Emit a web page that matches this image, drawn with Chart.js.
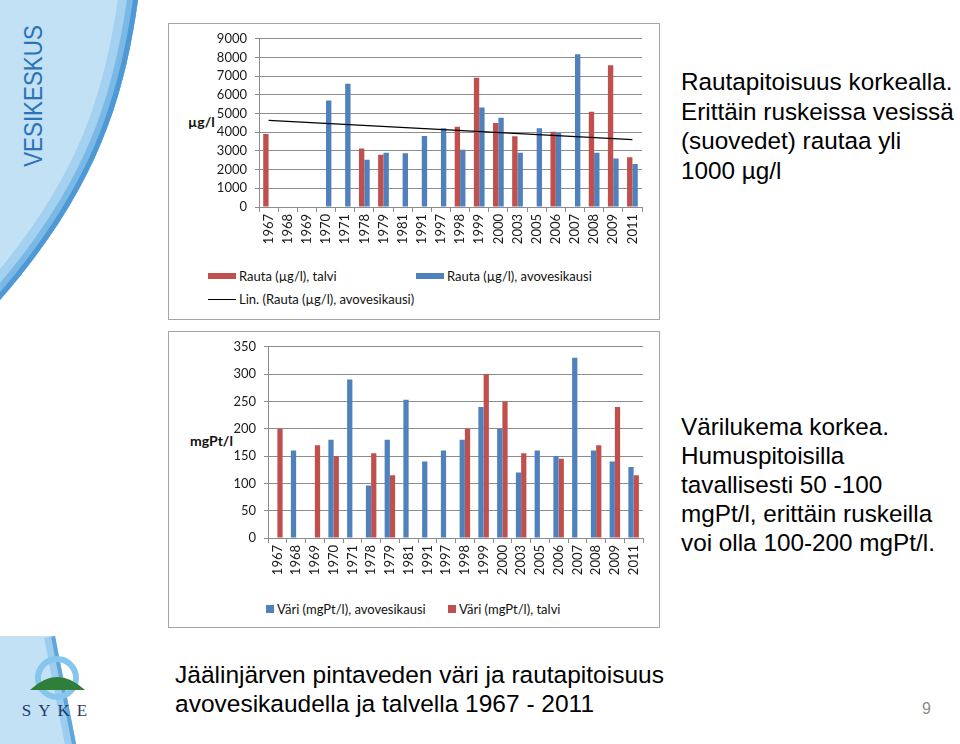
<!DOCTYPE html>
<html>
<head>
<meta charset="utf-8">
<script src="https://cdn.jsdelivr.net/npm/chart.js@4/dist/chart.umd.min.js"></script>
<style>
  body { margin: 0; width: 960px; height: 744px; position: relative; overflow: hidden; background: #fff; font-family: 'Liberation Sans', Arial, sans-serif; }
  .abs { position: absolute; }
  .box { position: absolute; border: 1px solid #a6a6a6; box-sizing: border-box; }
  .vk { position: absolute; left: 33px; top: 96px; transform: translate(-50%, -50%) rotate(-90deg) scaleX(0.86); color: #2b73b6; font-size: 26px; white-space: nowrap; }
  .side { position: absolute; left: 681px; font-size: 24.3px; color: #000; }
  .ylab { position: absolute; font-family: Lato, sans-serif; font-weight: bold; font-size: 14px; color: #111; }
  .leg { position: absolute; font-family: Lato, sans-serif; font-size: 13px; color: #111; white-space: nowrap; display: flex; align-items: center; }
  .leg i { display: inline-block; margin-right: 3px; }
  .title { position: absolute; left: 175px; top: 660px; font-size: 24.5px; line-height: 29px; color: #000; }
  .pnum { position: absolute; left: 922px; top: 700px; font-size: 16px; color: #8c8c8c; }
</style>
</head>
<body>

<svg class="abs" style="left:0;top:0" width="960" height="744">
  <defs>
    <clipPath id="topClip"><path d="M0,0 L138,0 C124,100 96,190 0,300 Z"/></clipPath>
    <clipPath id="botClip"><path d="M0,636 L55,636 L76,744 L0,744 Z"/></clipPath>
  </defs>
  <path d="M0,0 L138,0 C124,100 96,190 0,300 Z" fill="#c3e1f5"/>
  <g clip-path="url(#topClip)">
    <path d="M138,0 C124,100 96,190 0,300" fill="none" stroke="#a4d1f0" stroke-width="40"/>
    <path d="M138,0 C124,100 96,190 0,300" fill="none" stroke="#7ab8e6" stroke-width="22"/>
    <path d="M138,0 C124,100 96,190 0,300" fill="none" stroke="#4e98d6" stroke-width="10"/>
  </g>
  <path d="M0,636 L55,636 L76,744 L0,744 Z" fill="#c3e1f5"/>
  <g clip-path="url(#botClip)">
    <path d="M55,636 L76,744" fill="none" stroke="#9ccdef" stroke-width="22"/>
    <path d="M55,636 L76,744" fill="none" stroke="#5fa6dd" stroke-width="8"/>
  </g>
  <circle cx="57" cy="678" r="19" fill="none" stroke="#86c6ec" stroke-width="6"/>
  <path d="M30,690 Q57,664 85,690 Z" fill="#2f7f3b"/>
  <text x="58" y="716" text-anchor="middle" font-family="'Liberation Serif', serif" font-size="17" letter-spacing="7" fill="#1e3d6b">SYKE</text>
</svg>

<div class="vk">VESIKESKUS</div>

<div class="box" style="left:168px;top:23px;width:492px;height:297px"></div>
<div class="box" style="left:168px;top:331px;width:492px;height:297px"></div>

<div class="ylab" style="left:188px;top:113px">µg/l</div>
<div class="ylab" style="left:190px;top:432px">mgPt/l</div>

<canvas id="rautaChart" class="abs" style="left:168px;top:23px"></canvas>
<canvas id="variChart" class="abs" style="left:168px;top:331px"></canvas>
<div id="rautaLegend"></div>
<div id="variLegend"></div>

<div class="side" style="top:67px;line-height:29.5px">Rautapitoisuus korkealla.<br>Erittäin ruskeissa vesissä<br>(suovedet) rautaa yli<br>1000 µg/l</div>
<div class="side" style="top:412px;line-height:29px">Värilukema korkea.<br>Humuspitoisilla<br>tavallisesti 50 -100<br>mgPt/l, erittäin ruskeilla<br>voi olla 100-200 mgPt/l.</div>

<div class="title">Jäälinjärven pintaveden väri ja rautapitoisuus<br>avovesikaudella ja talvella 1967 - 2011</div>
<div class="pnum">9</div>

<script>
// ===== DATA =====
var years = ['1967', '1968', '1969', '1970', '1971', '1978', '1979', '1981', '1991', '1997',
             '1998', '1999', '2000', '2003', '2005', '2006', '2007', '2008', '2009', '2011'];

// Rauta (µg/l)
var rautaTalvi = [3900, null, null, null, null, 3130, 2800, null, null, null,
                  4290, 6910, 4500, 3790, null, 4020, null, 5100, 7580, 2660];
var rautaAvo = [null, null, null, 5700, 6600, 2530, 2900, 2870, 3800, 4220,
                3070, 5320, 4780, 2900, 4220, 3970, 8170, 2900, 2590, 2300];
// trend line end points
var rautaTrend = [4640, null, null, null, null, null, null, null, null, null,
                  null, null, null, null, null, null, null, null, null, 3600];
var rautaMax = 9000;
var rautaStep = 1000;

// Väri (mgPt/l)
var variAvo = [null, 160, null, 180, 290, 96, 180, 253, 140, 160,
               180, 240, 200, 120, 160, 150, 330, 160, 140, 130];
var variTalvi = [200, null, 170, 150, null, 155, 115, null, null, null,
                 200, 300, 250, 155, null, 145, null, 170, 240, 115];
var variMax = 350;
var variStep = 50;

var RED = '#C0504D';
var BLUE = '#4F81BD';
var GRID = '#8c8c8c';

Chart.defaults.font.family = 'Lato, sans-serif';
Chart.defaults.font.size = 13;
Chart.defaults.color = '#1a1a1a';

function fixWidth(w) { return function(scale) { scale.width = w; }; }
function fixHeight(h) { return function(scale) { scale.height = h; }; }

function scalesFor(max, step, yWidth, xHeight) {
    return {
        x: {
            grid: { drawOnChartArea: false, color: GRID, tickLength: 5, offset: true },
            border: { color: GRID },
            ticks: { minRotation: 90, maxRotation: 90, autoSkip: false, padding: 2 },
            afterFit: fixHeight(xHeight)
        },
        y: {
            min: 0,
            max: max,
            grid: { color: GRID, tickLength: 4 },
            border: { color: GRID },
            ticks: {
                stepSize: step,
                autoSkip: false,
                padding: 8,
                callback: function(v) { return String(v); }
            },
            afterFit: fixWidth(yWidth)
        }
    };
}

function barSet(label, data, color) {
    return {
        type: 'bar',
        label: label,
        data: data,
        backgroundColor: color,
        borderWidth: 0,
        categoryPercentage: 0.56,
        barPercentage: 1.0
    };
}

// ===== HTML LEGEND =====
function htmlLegend(chart, id, spots) {
    var box = document.getElementById(id);
    chart.data.datasets.forEach(function(ds, i) {
        var el = document.createElement('div');
        el.className = 'leg';
        el.style.left = spots[i].x + 'px';
        el.style.top = spots[i].y + 'px';
        var sw = document.createElement('i');
        if (ds.type === 'line') {
            sw.style.width = '28px';
            sw.style.height = '0';
            sw.style.borderTop = '1.5px solid ' + ds.borderColor;
        } else {
            sw.style.width = spots[i].w + 'px';
            sw.style.height = spots[i].h + 'px';
            sw.style.background = ds.backgroundColor;
        }
        el.appendChild(sw);
        el.appendChild(document.createTextNode(ds.label));
        box.appendChild(el);
    });
}

// ===== RAUTA CHART =====
var rautaCanvas = document.getElementById('rautaChart');
rautaCanvas.width = 491;
rautaCanvas.height = 226;
var rautaChart = new Chart(rautaCanvas, {
    data: {
        labels: years,
        datasets: [
            barSet('Rauta (µg/l),  talvi', rautaTalvi, RED),
            barSet('Rauta (µg/l),  avovesikausi', rautaAvo, BLUE),
            {
                type: 'line',
                label: 'Lin. (Rauta  (µg/l), avovesikausi)',
                data: rautaTrend,
                borderColor: '#000',
                borderWidth: 1.3,
                pointRadius: 0,
                spanGaps: true,
                order: -1
            }
        ]
    },
    options: {
        responsive: false,
        animation: false,
        layout: { padding: { top: 14, right: 17, left: 0, bottom: 0 } },
        plugins: { legend: { display: false }, tooltip: { enabled: false } },
        scales: scalesFor(rautaMax, rautaStep, 91, 42)
    }
});
htmlLegend(rautaChart, 'rautaLegend', [
    { x: 208, y: 268, w: 28, h: 6 },
    { x: 416, y: 268, w: 28, h: 6 },
    { x: 208, y: 291 }
]);

// ===== VARI CHART =====
var variCanvas = document.getElementById('variChart');
variCanvas.width = 491;
variCanvas.height = 250;
var variChart = new Chart(variCanvas, {
    data: {
        labels: years,
        datasets: [
            barSet('Väri (mgPt/l),  avovesikausi', variAvo, BLUE),
            barSet('Väri (mgPt/l),  talvi', variTalvi, RED)
        ]
    },
    options: {
        responsive: false,
        animation: false,
        layout: { padding: { top: 14, right: 16, left: 0, bottom: 0 } },
        plugins: { legend: { display: false }, tooltip: { enabled: false } },
        scales: scalesFor(variMax, variStep, 100, 43)
    }
});
htmlLegend(variChart, 'variLegend', [
    { x: 266, y: 601, w: 8, h: 8 },
    { x: 448, y: 601, w: 8, h: 8 }
]);
</script>
</body>
</html>
